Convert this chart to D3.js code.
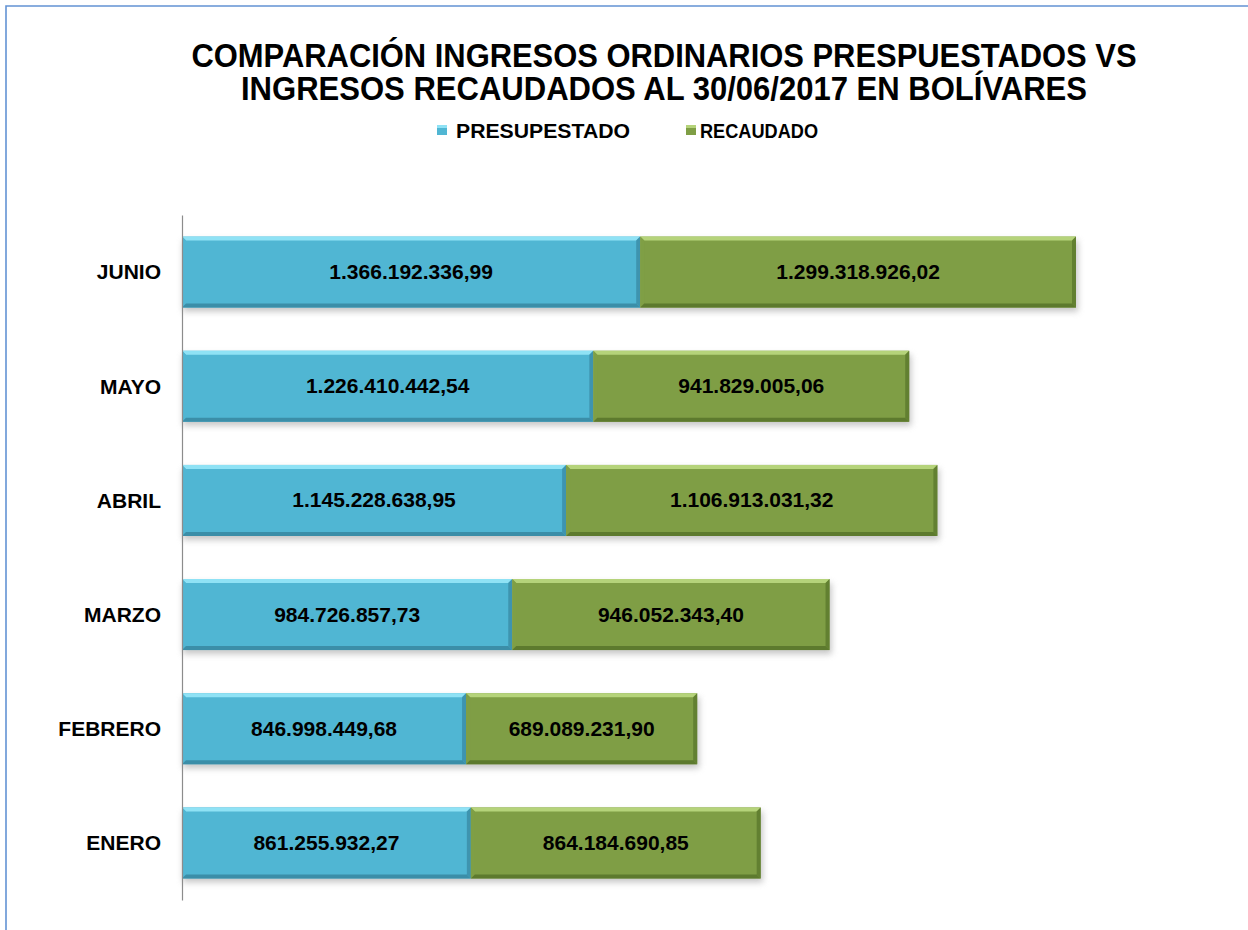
<!DOCTYPE html>
<html>
<head>
<meta charset="utf-8">
<script src="https://cdn.jsdelivr.net/npm/d3@7"></script>
<style>
  body { margin: 0; background: #fff; }
  svg text { font-family: "Liberation Sans", Arial, sans-serif; font-weight: bold; fill: #000; }
</style>
</head>
<body>
<div id="grafico"></div>
<script>
// data
const meses = ['JUNIO', 'MAYO', 'ABRIL', 'MARZO', 'FEBRERO', 'ENERO'];
const presupuestado = [1366192336.99, 1226410442.54, 1145228638.95, 984726857.73, 846998449.68, 861255932.27];
const recaudado = [1299318926.02, 941829005.06, 1106913031.32, 946052343.40, 689089231.90, 864184690.85];
const series = ['PRESUPESTADO', 'RECAUDADO'];
const tituloLineas = ['COMPARACIÓN INGRESOS ORDINARIOS PRESPUESTADOS VS', 'INGRESOS RECAUDADOS AL 30/06/2017 EN BOLÍVARES'];

const svgSize = { width: 1248, height: 930 };
const svg = d3.select('#grafico').append('svg')
  .attr('width', svgSize.width)
  .attr('height', svgSize.height);

// shadow filter under the bars
const defs = svg.append('defs');
const sombra = defs.append('filter').attr('id', 'sombra')
  .attr('x', '-5%').attr('y', '-20%').attr('width', '110%').attr('height', '160%');
sombra.append('feGaussianBlur').attr('stdDeviation', 3);

// border (left and top only are visible)
svg.append('path')
  .attr('d', `M6,${svgSize.height} L6,6 L${svgSize.width},6`)
  .attr('fill', 'none')
  .attr('stroke', '#6393d4')
  .attr('stroke-width', 1.6);

// title
svg.append('g').selectAll('text')
  .data(tituloLineas)
  .join('text')
  .attr('x', 664)
  .attr('y', (d, i) => 67 + i * 33)
  .attr('text-anchor', 'middle')
  .attr('font-size', 32.5)
  .attr('textLength', (d, i) => i == 0 ? 945 : 846)
  .attr('lengthAdjust', 'spacingAndGlyphs')
  .text(d => d);

//scales
const colores = d3.scaleOrdinal().domain(series).range(['#50b6d3', '#7f9e45']);
const claros = d3.scaleOrdinal().domain(series).range(['#8fe2f5', '#b5d37a']);
const oscuros = d3.scaleOrdinal().domain(series).range(['#3b8ea8', '#5d7a2e']);

const totales = meses.map((m, i) => presupuestado[i] + recaudado[i]);
const x = d3.scaleLinear().domain([0, d3.max(totales)]).range([182, 1076]);
const y = d3.scaleBand().domain(meses).range([215, 900]).paddingInner(0.378).paddingOuter(0.189);

// legend
const leyenda = svg.append('g');
const legX = [437, 686];
const legAncho = [174, 118];
series.forEach((s, i) => {
  const g = leyenda.append('g').attr('transform', `translate(${legX[i]},131)`);
  g.append('rect').attr('x', 0).attr('y', -6).attr('width', 10).attr('height', 10)
    .attr('fill', colores(s));
  g.append('rect').attr('x', 0).attr('y', -6).attr('width', 10).attr('height', 3)
    .attr('fill', claros(s));
  g.append('text').attr('x', i == 0 ? 19 : 14).attr('y', 7)
    .attr('font-size', 19.5)
    .attr('textLength', legAncho[i])
    .attr('lengthAdjust', 'spacingAndGlyphs')
    .text(s);
});

// stacked data
const filas = meses.map((m, i) => ({ mes: m, PRESUPESTADO: presupuestado[i], RECAUDADO: recaudado[i] }));
const pila = d3.stack().keys(series)(filas);

const barras = svg.append('g');

// shadows first
barras.selectAll('rect.sombra')
  .data(filas)
  .join('rect')
  .attr('class', 'sombra')
  .attr('x', x(0) + 1)
  .attr('y', d => y(d.mes) + 4)
  .attr('width', d => x(d.PRESUPESTADO + d.RECAUDADO) - x(0) + 1)
  .attr('height', y.bandwidth())
  .attr('fill', '#a0a0a0')
  .attr('opacity', 0.6)
  .attr('filter', 'url(#sombra)');

const b = 4; // bevel size
pila.forEach(capa => {
  const s = capa.key;
  capa.forEach(seg => {
    const x0 = x(seg[0]), x1 = x(seg[1]);
    const y0 = y(seg.data.mes), y1 = y0 + y.bandwidth();
    const g = barras.append('g');
    g.append('rect').attr('x', x0).attr('y', y0).attr('width', x1 - x0).attr('height', y1 - y0)
      .attr('fill', colores(s));
    // top bevel
    g.append('polygon')
      .attr('points', [[x0, y0], [x1, y0], [x1 - b, y0 + b], [x0 + b, y0 + b]].join(' '))
      .attr('fill', claros(s));
    // left bevel
    g.append('polygon')
      .attr('points', [[x0, y0], [x0 + b, y0 + b], [x0 + b, y1 - b], [x0, y1]].join(' '))
      .attr('fill', colores(s)).attr('opacity', 0.9);
    // bottom bevel
    g.append('polygon')
      .attr('points', [[x0, y1], [x0 + b, y1 - b], [x1 - b, y1 - b], [x1, y1]].join(' '))
      .attr('fill', oscuros(s));
    // right bevel
    g.append('polygon')
      .attr('points', [[x1, y0], [x1 - b, y0 + b], [x1 - b, y1 - b], [x1, y1]].join(' '))
      .attr('fill', oscuros(s)).attr('opacity', 0.85);
    // value label
    const valor = seg.data[s];
    g.append('text')
      .attr('x', (x0 + x1) / 2)
      .attr('y', (y0 + y1) / 2 + 7)
      .attr('text-anchor', 'middle')
      .attr('font-size', 21)
      .text(formato(valor));
  });
});

// axis line and category labels
const eje = svg.append('g').attr('transform', `translate(${x(0)},0)`)
  .call(d3.axisLeft(y).tickSize(0).tickPadding(21));
eje.select('.domain').attr('stroke', '#8c8c8c').attr('stroke-width', 1.2);
eje.selectAll('text').attr('font-size', 21).attr('dy', '0.35em')
  .attr('font-family', '"Liberation Sans", Arial, sans-serif').attr('font-weight', 'bold').attr('fill', '#000');

// format numbers like 1.366.192.336,99
function formato(v) {
  const partes = v.toFixed(2).split('.');
  const entero = partes[0].replace(/\B(?=(\d{3})+(?!\d))/g, '.');
  return entero + ',' + partes[1];
}
</script>
</body>
</html>
